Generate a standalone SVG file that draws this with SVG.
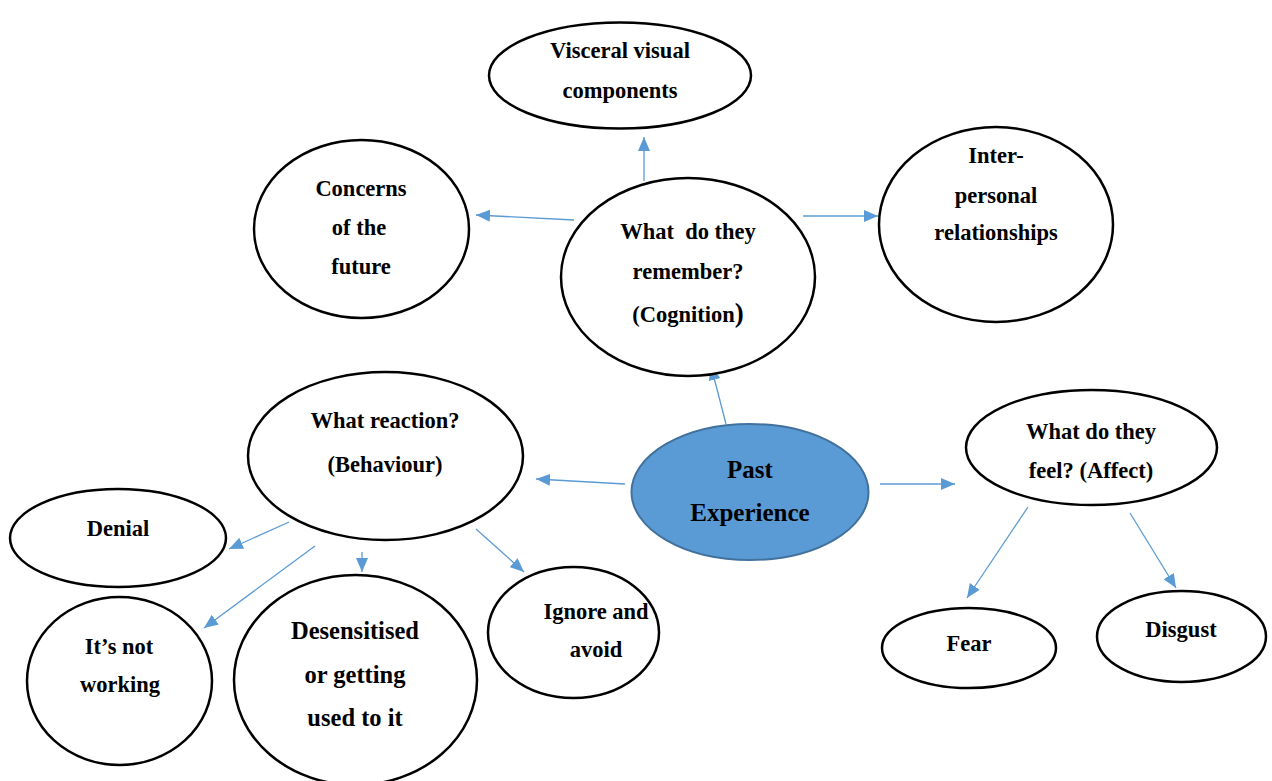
<svg xmlns="http://www.w3.org/2000/svg" width="1272" height="781" viewBox="0 0 1272 781">
<style>
.n{fill:#fff;stroke:#000;stroke-width:2.5}
.c{fill:#5b9bd5;stroke:#41719c;stroke-width:2}
.t{font-family:"Liberation Serif","Times New Roman",serif;font-weight:bold;font-size:22.5px;fill:#000;text-anchor:middle}
.b{font-size:25px}
.d{font-size:24.5px}
.e{stroke:#5b9bd5;stroke-width:1.3;fill:none;marker-end:url(#ah)}
</style>
<defs>
<marker id="ah" markerWidth="14" markerHeight="12" refX="14" refY="6" orient="auto" markerUnits="userSpaceOnUse">
<path d="M0,0 L14,6 L0,12 Z" fill="#5b9bd5"/>
</marker>
</defs>
<rect width="1272" height="781" fill="#fff"/>
<g id="connectors">
<line class="e" x1="644" y1="181" x2="644" y2="137"/>
<line class="e" x1="574" y1="220" x2="476" y2="215"/>
<line class="e" x1="803" y1="216" x2="878" y2="216"/>
<line class="e" x1="726" y1="424" x2="711" y2="366"/>
<line class="e" x1="625" y1="484" x2="536" y2="479"/>
<line class="e" x1="880" y1="484" x2="955" y2="484"/>
<line class="e" x1="1028" y1="507" x2="967" y2="598"/>
<line class="e" x1="1130" y1="513" x2="1176" y2="588"/>
<line class="e" x1="289" y1="522" x2="229" y2="549"/>
<line class="e" x1="315" y1="546" x2="204" y2="628"/>
<line class="e" x1="362" y1="552" x2="362" y2="572"/>
<line class="e" x1="476" y1="529" x2="524" y2="572"/>
</g>
<g id="visceral">
<ellipse class="n" cx="620" cy="75.5" rx="131" ry="53"/>
<text class="t" x="620" y="58">Visceral visual</text>
<text class="t" x="620" y="98">components</text>
</g>
<g id="concerns">
<ellipse class="n" cx="361.5" cy="229" rx="107.5" ry="89"/>
<text class="t" x="361" y="196">Concerns</text>
<text class="t" x="359" y="235">of the</text>
<text class="t" x="361" y="274">future</text>
</g>
<g id="remember">
<ellipse class="n" cx="688" cy="277" rx="127" ry="99"/>
<text class="t" x="688" y="239">What&#160; do they</text>
<text class="t" x="688" y="279">remember?</text>
<text class="t" x="688" y="322">(Cognition<tspan font-size="27">)</tspan></text>
</g>
<g id="interpersonal">
<ellipse class="n" cx="996" cy="224.5" rx="117" ry="97.5"/>
<text class="t" x="996" y="163">Inter-</text>
<text class="t" x="996" y="203">personal</text>
<text class="t" x="996" y="240">relationships</text>
</g>
<g id="reaction">
<ellipse class="n" cx="385.5" cy="456" rx="137.5" ry="84"/>
<text class="t" x="385" y="428">What reaction?</text>
<text class="t" x="385" y="472">(Behaviour)</text>
</g>
<g id="past">
<ellipse class="c" cx="750" cy="492" rx="118.5" ry="68"/>
<text class="t b" x="750" y="478">Past</text>
<text class="t b" x="750" y="521">Experience</text>
</g>
<g id="feel">
<ellipse class="n" cx="1091.5" cy="447.5" rx="125.5" ry="57.5"/>
<text class="t" x="1091" y="439">What do they</text>
<text class="t" x="1091" y="478">feel? (Affect)</text>
</g>
<g id="denial">
<ellipse class="n" cx="118" cy="538" rx="108" ry="49"/>
<text class="t" x="118" y="536">Denial</text>
</g>
<g id="notworking">
<ellipse class="n" cx="119.5" cy="681" rx="92.5" ry="84"/>
<text class="t" x="119" y="654">It’s not</text>
<text class="t" x="120" y="692">working</text>
</g>
<g id="desensitised">
<ellipse class="n" cx="355.5" cy="680" rx="121.5" ry="105"/>
<text class="t d" x="355" y="639">Desensitised</text>
<text class="t d" x="355" y="683">or getting</text>
<text class="t d" x="355" y="726">used to it</text>
</g>
<g id="ignore">
<ellipse class="n" cx="573.5" cy="632.5" rx="85.5" ry="65.5"/>
<text class="t" x="596" y="619">Ignore and</text>
<text class="t" x="596" y="657">avoid</text>
</g>
<g id="fear">
<ellipse class="n" cx="969" cy="648" rx="87" ry="40"/>
<text class="t" x="969" y="651">Fear</text>
</g>
<g id="disgust">
<ellipse class="n" cx="1181.5" cy="636.5" rx="84.5" ry="45.5"/>
<text class="t" x="1181" y="637">Disgust</text>
</g>
</svg>
